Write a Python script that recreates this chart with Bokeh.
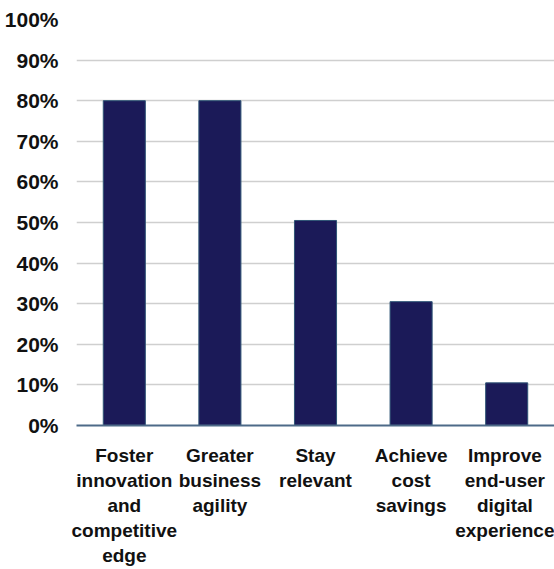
from bokeh.plotting import figure
from bokeh.models import Range1d, FixedTicker
from bokeh.embed import file_html
from bokeh.resources import INLINE

categories = ["Foster\ninnovation\nand\ncompetitive\nedge",
              "Greater\nbusiness\nagility",
              "Stay\nrelevant",
              "Achieve\ncost\nsavings",
              "Improve\nend-user\ndigital\nexperience"]
values = [80, 80, 50.5, 30.5, 10.5]
y_ticks = [0, 10, 20, 30, 40, 50, 60, 70, 80, 90, 100]

p = figure(x_range=categories, y_range=Range1d(0, 100), width=554, height=569,
           output_backend="svg", toolbar_location=None,
           min_border_left=76, min_border_right=0, min_border_top=19, min_border_bottom=0)
p.outline_line_color = None
p.background_fill_color = "white"

p.vbar(x=categories, top=values, width=0.44, fill_color="#1b1a58",
       line_color="#2f5576", line_width=1)

p.yaxis.ticker = FixedTicker(ticks=y_ticks)
p.yaxis.major_label_overrides = {t: f"{t}%" for t in y_ticks}
p.yaxis.axis_line_color = None
p.yaxis.major_tick_line_color = None
p.yaxis.minor_tick_line_color = None
p.yaxis.major_label_text_font = "Liberation Sans"
p.yaxis.major_label_text_font_style = "bold"
p.yaxis.major_label_text_font_size = "21px"
p.yaxis.major_label_text_color = "#111111"
p.yaxis.major_label_standoff = 12

p.xaxis.axis_line_color = "#4d6a88"
p.xaxis.axis_line_width = 2
p.xaxis.major_tick_line_color = None
p.xaxis.minor_tick_line_color = None
p.xaxis.major_label_text_font = "Liberation Sans"
p.xaxis.major_label_text_font_style = "bold"
p.xaxis.major_label_text_font_size = "19px"
p.xaxis.major_label_text_color = "#111111"
p.xaxis.major_label_standoff = 13

p.xgrid.grid_line_color = None
p.ygrid.grid_line_color = "#cfcfcf"
p.ygrid.grid_line_width = 1.5
p.x_range.range_padding = 0

open("out.html", "w").write(file_html(p, INLINE))
